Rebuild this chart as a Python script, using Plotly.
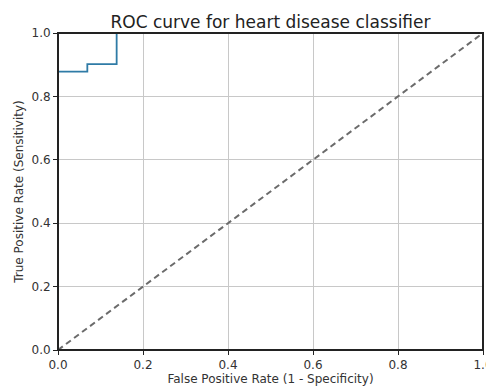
import plotly.graph_objects as go

fpr = [0.0, 0.0, 0.069, 0.069, 0.138, 0.138, 1.0]
tpr = [0.0, 0.878, 0.878, 0.902, 0.902, 1.0, 1.0]
diag_x = [0.0, 1.0]
diag_y = [0.0, 1.0]
tick_vals = [0.0, 0.2, 0.4, 0.6, 0.8, 1.0]
tick_text = ["0.0", "0.2", "0.4", "0.6", "0.8", "1.0"]

fig = go.Figure()
fig.add_trace(go.Scatter(x=fpr, y=tpr, mode="lines", line=dict(color="#2f7ba6", width=1.8),
                         showlegend=False))
fig.add_trace(go.Scatter(x=diag_x, y=diag_y, mode="lines",
                         line=dict(color="#6b6b6b", width=2, dash="6px,4px"), showlegend=False))

axis_common = dict(tickvals=tick_vals, ticktext=tick_text, showgrid=True,
                   gridcolor="#c8c8c8", gridwidth=1, zeroline=False, showline=False,
                   ticks="outside", ticklen=4, tickcolor="#222222", ticklabeloverflow="allow",
                   automargin=False,
                   tickfont=dict(size=12, color="#333333", family="DejaVu Sans"))

fig.update_xaxes(**axis_common, range=[0, 1.0],
                 title=dict(text="False Positive Rate (1 - Specificity)",
                            font=dict(size=12, color="#333333", family="DejaVu Sans"), standoff=2))
fig.update_yaxes(**axis_common, range=[0, 1.0],
                 title=dict(text="True Positive Rate (Sensitivity)",
                            font=dict(size=12, color="#333333", family="DejaVu Sans"), standoff=5))

# frame (spines) drawn above the traces, centred on the plot-area edges
fig.add_shape(type="rect", xref="x domain", yref="y domain", x0=0, x1=1, y0=0, y1=1,
              line=dict(color="#222222", width=2), layer="above")

fig.update_layout(
    width=486, height=387,
    margin=dict(l=58, r=3, t=33, b=37, autoexpand=False),
    paper_bgcolor="white", plot_bgcolor="white",
    title=dict(text="ROC curve for heart disease classifier", x=0.5, xref="paper",
               xanchor="center", yref="container", y=0.927, yanchor="bottom",
               font=dict(size=17, color="#222222", family="DejaVu Sans")),
)

fig.write_html("out.html")
